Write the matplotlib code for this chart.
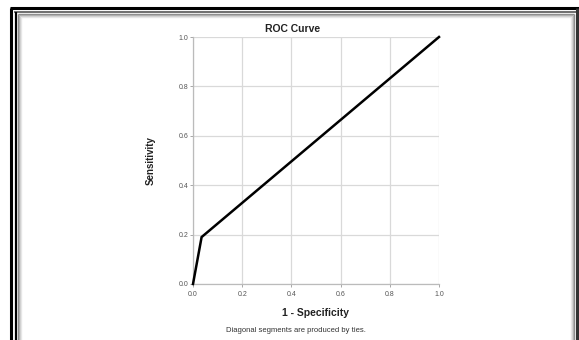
import matplotlib
matplotlib.use("Agg")
import matplotlib.pyplot as plt
from matplotlib.lines import Line2D

plt.rcParams['font.family'] = ['Liberation Sans', 'DejaVu Sans']

# ROC points: 1 - specificity vs sensitivity
fpr = [0.0, 0.035, 1.0]
tpr = [0.0, 0.19, 1.0]
ticks = [0.0, 0.2, 0.4, 0.6, 0.8, 1.0]
tick_labels = ['0.0', '0.2', '0.4', '0.6', '0.8', '1.0']

W, H = 579, 340
fig = plt.figure(figsize=(W / 100, H / 100), dpi=100)
fig.patch.set_facecolor('white')

def px_line(x0, y0, x1, y1, color, lw):
    # line in pixel coordinates (origin top-left)
    fig.add_artist(Line2D([x0 / W, x1 / W], [1 - y0 / H, 1 - y1 / H],
                          transform=fig.transFigure, color=color, lw=lw,
                          solid_capstyle='butt'))

# picture frame
px_line(10, 8, 579, 8, 'black', 2.2)
px_line(11, 8, 11, 340, 'black', 2.2)
px_line(14, 11.5, 576, 11.5, '#555555', 1.2)
px_line(15.5, 11.5, 15.5, 340, 'black', 1.6)
px_line(576.5, 8, 576.5, 340, '#333333', 2.2)
for i, c in enumerate(['#888888', '#aaaaaa', '#cccccc', '#e6e6e6']):
    px_line(17.5 + i, 13.5 + i, 17.5 + i, 340, c, 1.0)
    px_line(17.5 + i, 13.5 + i, 574 - i, 13.5 + i, c, 1.0)
    px_line(574 - i, 13.5 + i, 574 - i, 340, c, 1.0)

ax = fig.add_axes([193 / W, 1 - 284 / H, 246 / W, 247 / H])
ax.plot(fpr, tpr, color='black', lw=1.8, solid_joinstyle='miter', clip_on=False, zorder=3)
ax.set_xlim(0, 1)
ax.set_ylim(0, 1)
ax.set_xticks(ticks)
ax.set_yticks(ticks)
ax.set_xticklabels(tick_labels)
ax.set_yticklabels(tick_labels)
ax.grid(True, color='#d9d9d9', lw=0.9)
ax.set_axisbelow(True)
for s in ['top', 'right']:
    ax.spines[s].set_visible(False)
for s in ['left', 'bottom']:
    ax.spines[s].set_color('#bbbbbb')
    ax.spines[s].set_linewidth(0.9)
ax.tick_params(length=2, width=0.6, color='#999999', labelsize=5,
               labelcolor='#555555')
ax.tick_params(axis='x', pad=3)
ax.tick_params(axis='y', pad=1.5)

ax.set_xlabel('1 - Specificity', fontsize=7.5, fontweight='bold', color='#222222', labelpad=7)
ax.set_ylabel('Sensitivity', fontsize=7, fontweight='bold', color='#222222', labelpad=16)

fig.text(293 / W, 1 - 29 / H, 'ROC Curve', ha='center', va='center',
         fontsize=7.5, fontweight='bold', color='#222222')
fig.text(296 / W, 1 - 330 / H, 'Diagonal segments are produced by ties.', ha='center',
         va='center', fontsize=5.5, color='#333333')

fig.savefig('out.png', dpi=100)
